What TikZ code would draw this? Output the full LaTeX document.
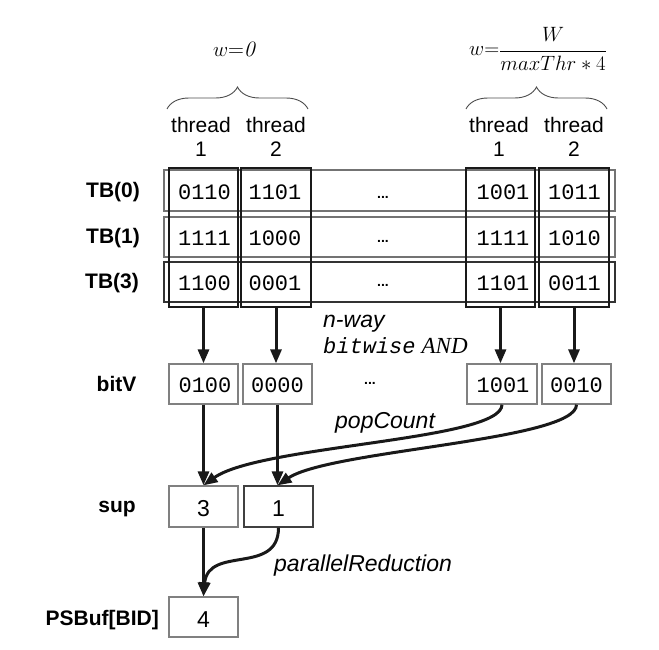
\documentclass[tikz,border=0pt]{standalone}
\usepackage{fontspec}
\usetikzlibrary{arrows.meta,calc,decorations.pathreplacing}
\newfontfamily\arial{Liberation Sans}
\newfontfamily\cour{Liberation Mono}
\newfontfamily\tnr{Liberation Serif}
\begin{document}
\begin{tikzpicture}[x=1pt,y=-1pt,
  lbl/.style={font=\arial\bfseries\fontsize{21}{24}\selectfont,anchor=base,inner sep=0pt},
  thr/.style={font=\arial\fontsize{21}{24}\selectfont,align=center,inner sep=0pt},
  bits/.style={font=\cour\fontsize{22}{24}\selectfont,anchor=base,inner sep=0pt},
  num/.style={font=\arial\fontsize{23}{26}\selectfont,anchor=base,inner sep=0pt},
  dots/.style={font=\arial\bfseries\fontsize{14}{16}\selectfont,anchor=base,inner sep=0pt},
  itl/.style={font=\arial\itshape\fontsize{23}{26}\selectfont,anchor=base west,inner sep=0pt},
  rowbox/.style={draw=black!55,line width=1.1pt,inner sep=0pt},
  colbox/.style={draw=black!90,line width=2.6pt,inner sep=0pt},
  valbox/.style={draw=black!50,line width=1.3pt,inner sep=0pt},
  arr/.style={line width=3pt,draw=black!90,-{Triangle[length=14pt,width=11pt]}},
  brc/.style={draw=black!70,line width=0.9pt,decorate,decoration={brace,amplitude=22pt}}
]
\useasboundingbox (0,0) rectangle (659,650);

% header texts
\node[anchor=base,inner sep=0pt,font=\fontsize{22}{26}\selectfont] (w0) at (234.5,57) {$w$=\textit{0}};
\node[inner sep=0pt,font=\fontsize{21}{25}\selectfont] (w1) at (538,49) {$w{=}\displaystyle\frac{W}{maxThr*4}$};

% braces
\coordinate (bl1) at (167,109); \coordinate (br1) at (308,109);
\coordinate (bl2) at (466,109); \coordinate (br2) at (607,109);
\draw[brc] (bl1) -- (br1);
\draw[brc] (bl2) -- (br2);

% thread labels
\node[thr] (t1) at (201,137) {thread\\1};
\node[thr] (t2) at (276,137) {thread\\2};
\node[thr] (t3) at (499,137) {thread\\1};
\node[thr] (t4) at (574,137) {thread\\2};

% row boxes
\node[rowbox,minimum width=451pt,minimum height=41pt] (r0) at (389.5,190.5) {};
\node[rowbox,minimum width=451pt,minimum height=40pt] (r1) at (389.5,237) {};
\node[rowbox,draw=black!80,minimum width=451pt,minimum height=40pt] (r3) at (389.5,282) {};

% column boxes
\node[colbox,minimum width=69pt,minimum height=139pt] (c1) at (203.5,237.5) {};
\node[colbox,minimum width=70pt,minimum height=139pt] (c2) at (276,237.5) {};
\node[colbox,minimum width=69pt,minimum height=139pt] (c3) at (500.5,237.5) {};
\node[colbox,minimum width=70pt,minimum height=139pt] (c4) at (574,237.5) {};

% row labels
\node[lbl] (l0) at (113,197) {TB(0)};
\node[lbl] (l1) at (113,243) {TB(1)};
\node[lbl] (l3) at (112,288) {TB(3)};
\node[lbl] (lb) at (116.5,391) {bitV};
\node[lbl] (ls) at (117,512) {sup};
\node[lbl,anchor=base east] (lp) at (159,625) {PSBuf[BID]};

% cell values
\node[bits] (v01) at (204.5,200) {0110};
\node[bits] (v02) at (275,200) {1101};
\node[bits] (v03) at (503,200) {1001};
\node[bits] (v04) at (574.5,200) {1011};
\node[bits] (v11) at (204.5,245) {1111};
\node[bits] (v12) at (275,245) {1000};
\node[bits] (v13) at (503,245) {1111};
\node[bits] (v14) at (574.5,245) {1010};
\node[bits] (v31) at (204.5,290) {1100};
\node[bits] (v32) at (275,290) {0001};
\node[bits] (v33) at (503,290) {1101};
\node[bits] (v34) at (574.5,290) {0011};

\node[dots] (d0) at (383,198) {...};
\node[dots] (d1) at (383,242) {...};
\node[dots] (d3) at (383,286) {...};
\node[dots] (db) at (370,384) {...};

% operation labels
\node[itl] (nway) at (323,327) {n-way};
\node[anchor=base west,inner sep=0pt] (bw) at (323,353) {{\cour\itshape\fontsize{22}{24}\selectfont bitwise}\hspace{6pt}{\tnr\itshape\fontsize{23}{26}\selectfont AND}};
\node[itl] (pc) at (335,428) {popCount};
\node[itl] (pr) at (274,571) {parallelReduction};

% bitV boxes
\node[valbox,minimum width=69pt,minimum height=40pt] (b1) at (203.5,384) {};
\node[valbox,minimum width=69pt,minimum height=40pt] (b2) at (277.5,384) {};
\node[valbox,minimum width=70pt,minimum height=40pt] (b3) at (502,384) {};
\node[valbox,minimum width=69pt,minimum height=40pt] (b4) at (576.5,384) {};
\node[bits] (bv1) at (205,392) {0100};
\node[bits] (bv2) at (277.5,392) {0000};
\node[bits] (bv3) at (503,392) {1001};
\node[bits] (bv4) at (576.5,392) {0010};

% sup boxes
\node[valbox,minimum width=69pt,minimum height=41pt] (s1) at (203.5,506.5) {};
\node[valbox,draw=black!75,minimum width=69pt,minimum height=41pt] (s2) at (278.5,506.5) {};
\node[num] (sv1) at (203.5,516) {3};
\node[num] (sv2) at (278.5,516) {1};

% PSBuf box
\node[valbox,minimum width=69pt,minimum height=40pt] (p) at (203.5,617) {};
\node[num] (pv) at (203.5,627) {4};

% arrows
\draw[arr] (c1.south) -- (b1.north -| c1.south);
\draw[arr] (c2.south) -- (b2.north -| c2.south);
\draw[arr] (c3.south) -- (b3.north -| c3.south);
\draw[arr] (c4.south) -- (b4.north -| c4.south);
\draw[arr] (b1.south) -- (s1.north);
\draw[arr] (b2.south) -- (s2.north -| b2.south);
\draw[arr] (b3.south) .. controls ($(b3.south)+(0,36)$) and (260,445) .. (s1.north);
\draw[arr] (b4.south) .. controls ($(b4.south)+(0,36)$) and (330,450) .. (s2.north -| b2.south);
\draw[arr] (s1.south) -- (p.north);
\draw[arr] (s2.south) .. controls ($(s2.south)+(0,48)$) and (208,545) .. (p.north);
\end{tikzpicture}
\end{document}
